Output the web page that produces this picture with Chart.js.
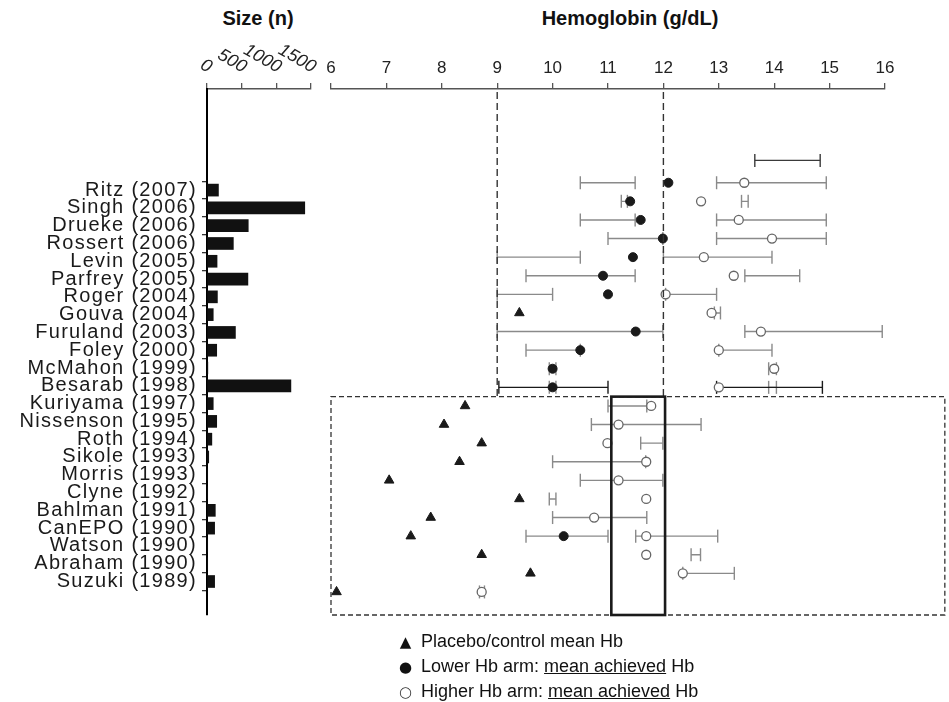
<!DOCTYPE html>
<html>
<head>
<meta charset="utf-8">
<script src="https://cdn.jsdelivr.net/npm/chart.js@4.4.1/dist/chart.umd.min.js"></script>
<style>
  body { margin: 0; background: #fff; font-family: "Liberation Sans", Arial, sans-serif; }
  #wrap { position: relative; width: 949px; height: 702px; overflow: hidden; background: #fff; }
  #sizeBox { position: absolute; left: 0; top: 0; width: 320px; height: 702px; }
  #hbBox { position: absolute; left: 300px; top: 0; width: 649px; height: 702px; }
  .title { position: absolute; top: 7px; font-weight: bold; font-size: 20px; color: #111; transform: translateX(-50%); white-space: nowrap; }
  .leg { position: absolute; left: 390px; font-size: 18px; line-height: 20px; color: #111; white-space: nowrap; }
  .leg .sym { display: inline-block; width: 31px; font-family: "DejaVu Sans", sans-serif; text-align: center; }
</style>
</head>
<body>
<div id="wrap">
  <div class="title" style="left:258px">Size (n)</div>
  <div class="title" style="left:630px">Hemoglobin (g/dL)</div>
  <div id="sizeBox"><canvas id="sizeChart"></canvas></div>
  <div id="hbBox"><canvas id="hbChart"></canvas></div>
  <div class="leg" style="top:631px"><span class="sym" style="font-size:15px">▲</span>Placebo/control mean Hb</div>
  <div class="leg" style="top:656px"><span class="sym" style="font-size:15px">●</span>Lower Hb arm: <u>mean achieved</u> Hb</div>
  <div class="leg" style="top:681px"><span class="sym" style="font-size:15px;color:#333">○</span>Higher Hb arm: <u>mean achieved</u> Hb</div>
</div>
<script>
// --- data ---
const studies = ['Ritz (2007)', 'Singh (2006)', 'Drueke (2006)', 'Rossert (2006)', 'Levin (2005)',
  'Parfrey (2005)', 'Roger (2004)', 'Gouva (2004)', 'Furuland (2003)', 'Foley (2000)', 'McMahon (1999)',
  'Besarab (1998)', 'Kuriyama (1997)', 'Nissenson (1995)', 'Roth (1994)', 'Sikole (1993)', 'Morris (1993)',
  'Clyne (1992)', 'Bahlman (1991)', 'CanEPO (1990)', 'Watson (1990)', 'Abraham (1990)', 'Suzuki (1989)'];

const sizeN = [165, 1410, 595, 380, 145, 590, 150, 90, 410, 140, 12, 1210,
  90, 140, 70, 25, 10, 10, 120, 110, 10, 10, 110];
const sizeTicks = [0, 500, 1000, 1500];

const placeboHb = [null, null, null, null, null, null, null, 9.4, null, null, null, null,
  8.42, 8.04, 8.72, 8.32, 7.05, 9.4, 7.8, 7.44, 8.72, 9.6, 6.1];
const lowerHb = [12.09, 11.4, 11.59, 11.99, 11.45, 10.91, 11.0, null, 11.5, 10.5, 10.0, 10.0,
  null, null, null, null, null, null, null, 10.2, null, null, null];
const higherHb = [13.46, 12.68, 13.36, 13.96, 12.73, 13.27, 12.04, 12.87, 13.76, 13.0, 14.0, 13.0,
  11.78, 11.19, 10.99, 11.69, 11.19, 11.69, 10.75, 11.69, 11.69, 12.35, 8.72];

// target ranges of the lower arm
const lowTargetLo = [10.5, 11.24, 10.5, 11.0, 9.0, 9.52, 9.0, null, 9.0, 9.52, 9.94, 9.03,
  null, null, null, null, null, 9.94, null, 9.52, null, null, 8.68];
const lowTargetHi = [11.49, 11.35, 11.49, 11.99, 10.5, 11.49, 10.0, null, 11.99, 10.5, 10.06, 11.0,
  null, null, null, null, null, 10.06, null, 11.0, null, null, 8.77];
// target ranges of the higher arm
const highTargetLo = [12.96, 13.41, 12.96, 12.96, 12.0, 13.47, 12.04, 12.92, 13.47, 13.0, 13.9, 12.96,
  11.0, 10.7, 11.59, 10.0, 10.5, null, 10.0, 11.5, 12.5, 12.35, null];
const highTargetHi = [14.94, 13.53, 14.94, 14.94, 13.96, 14.46, 12.96, 13.03, 15.95, 13.96, 14.04, 14.87,
  11.7, 12.68, 11.99, 11.68, 11.99, null, 11.7, 12.98, 12.67, 13.28, null];
// extra short bars (row position, low, high)
const extraRow = [-1.2, 11, 11];
const extraLo = [13.65, 9.94, 13.9];
const extraHi = [14.83, 10.06, 14.04];
const darkRows = [11];

const hbMin = 6, hbMax = 16;
const refLines = [9, 12];
const boxLo = 11.06, boxHi = 12.03;
const zoneTopRow = 11.5, zoneRight = 17.08;
const rowMin = -5.04, rowMax = 23.24;

const FONT = '"Liberation Sans", Arial, sans-serif';

// --- size chart ---
const sizeLabels = {
  id: 'sizeLabels',
  beforeDraw(chart) { chart.ctx.letterSpacing = '1.3px'; },
  afterDraw(chart) {
    const ctx = chart.ctx;
    ctx.letterSpacing = '0px';
    const xs = chart.scales.x;
    ctx.save();
    ctx.font = 'italic 18px ' + FONT;
    ctx.fillStyle = '#222';
    ctx.textAlign = 'right';
    ctx.textBaseline = 'alphabetic';
    sizeTicks.forEach(v => {
      ctx.save();
      ctx.translate(xs.getPixelForValue(v) + 1, xs.bottom - 16);
      ctx.rotate(0.52);
      ctx.fillText(String(v), 0, 0);
      ctx.restore();
    });
    ctx.restore();
  }
};

new Chart(document.getElementById('sizeChart'), {
  type: 'bar',
  data: {
    datasets: [{
      data: sizeN.map((v, i) => ({ x: v, y: i })),
      backgroundColor: '#111',
      barThickness: 12
    }]
  },
  options: {
    indexAxis: 'y',
    responsive: true,
    maintainAspectRatio: false,
    animation: false,
    layout: { padding: { left: 0, right: 9, top: 0, bottom: 87 } },
    plugins: { legend: { display: false }, tooltip: { enabled: false } },
    scales: {
      x: {
        type: 'linear', position: 'top', min: 0, max: 1500,
        afterBuildTicks: s => { s.ticks = sizeTicks.map(v => ({ value: v })); },
        afterFit: s => { s.height = 89; },
        ticks: { display: false },
        grid: { drawOnChartArea: false, drawTicks: true, tickLength: 6, color: '#555', lineWidth: 1.3 },
        border: { color: '#555', width: 1.5 }
      },
      y: {
        type: 'linear', reverse: true, min: rowMin, max: rowMax,
        afterBuildTicks: s => { s.ticks = studies.map((_, i) => ({ value: i })); },
        afterFit: s => { s.width = 207; },
        ticks: {
          autoSkip: false, padding: 5, color: '#1a1a1a',
          font: { family: FONT, size: 20 },
          callback: v => studies[v]
        },
        grid: { drawOnChartArea: false, drawTicks: true, tickLength: 5, color: '#333', lineWidth: 1.3 },
        border: { color: '#000', width: 2 }
      }
    }
  },
  plugins: [sizeLabels]
});

// --- hemoglobin chart ---
function points(vals) {
  const out = [];
  vals.forEach((v, i) => { if (v != null) out.push({ x: v, y: i }); });
  return out;
}
function rangePoints(rows, lo, hi, keep) {
  const out = [];
  rows.forEach((r, i) => {
    if (lo[i] == null || !keep(r)) return;
    out.push({ x: lo[i], y: r }, { x: hi[i], y: r }, { x: null, y: null });
  });
  return out;
}
const rowIdx = studies.map((_, i) => i);
const isDark = r => darkRows.includes(r);
const isLight = r => !darkRows.includes(r);
const greyBars = [].concat(
  rangePoints(rowIdx, lowTargetLo, lowTargetHi, isLight),
  rangePoints(rowIdx, highTargetLo, highTargetHi, isLight),
  rangePoints(extraRow.slice(1), extraLo.slice(1), extraHi.slice(1), r => true)
);
const darkBars = [].concat(
  rangePoints(rowIdx, lowTargetLo, lowTargetHi, isDark),
  rangePoints(rowIdx, highTargetLo, highTargetHi, isDark)
);
const topBar = rangePoints(extraRow.slice(0, 1), extraLo, extraHi, r => true);

function barSet(data, color, order) {
  return {
    data, showLine: true, spanGaps: false, order, clip: false,
    borderColor: color, borderWidth: 1.4,
    pointStyle: 'line', rotation: 90, pointRadius: 6.5, pointHoverRadius: 6.5,
    pointBorderColor: color, pointBackgroundColor: color, pointBorderWidth: 1.4
  };
}

const annotations = {
  id: 'annotations',
  afterDatasetsDraw(chart) {
    const { ctx, chartArea } = chart;
    const xs = chart.scales.x, ys = chart.scales.y;
    const yTop = ys.getPixelForValue(zoneTopRow);
    const yBot = ys.getPixelForValue(rowMax);
    ctx.save();
    ctx.strokeStyle = '#333';
    ctx.lineWidth = 1.4;
    ctx.setLineDash([7, 4]);
    refLines.forEach(v => {
      const x = xs.getPixelForValue(v);
      ctx.beginPath();
      ctx.moveTo(x, chartArea.top + 3);
      ctx.lineTo(x, yTop);
      ctx.stroke();
    });
    ctx.setLineDash([5, 3]);
    ctx.lineWidth = 1.3;
    const xl = xs.getPixelForValue(hbMin), xr = xs.getPixelForValue(zoneRight);
    ctx.strokeRect(xl, yTop, xr - xl, yBot - yTop);
    ctx.setLineDash([]);
    ctx.lineWidth = 2.6;
    ctx.strokeStyle = '#1a1a1a';
    const bl = xs.getPixelForValue(boxLo), br = xs.getPixelForValue(boxHi);
    ctx.strokeRect(bl, yTop, br - bl, yBot - yTop);
    ctx.restore();
  }
};

new Chart(document.getElementById('hbChart'), {
  type: 'scatter',
  data: {
    datasets: [
      { data: points(placeboHb), pointStyle: 'triangle', pointRadius: 5.5, pointHoverRadius: 5.5,
        backgroundColor: '#1a1a1a', borderColor: '#1a1a1a', borderWidth: 1, order: 0, clip: false },
      { data: points(lowerHb), pointStyle: 'circle', pointRadius: 4.5, pointHoverRadius: 4.5,
        backgroundColor: '#1a1a1a', borderColor: '#1a1a1a', borderWidth: 1, order: 0, clip: false },
      { data: points(higherHb), pointStyle: 'circle', pointRadius: 4.5, pointHoverRadius: 4.5,
        backgroundColor: '#fff', borderColor: '#666', borderWidth: 1.3, order: 1, clip: false },
      barSet(greyBars, '#8a8a8a', 5),
      barSet(darkBars, '#1a1a1a', 4),
      barSet(topBar, '#3a3a3a', 4)
    ]
  },
  options: {
    responsive: true,
    maintainAspectRatio: false,
    animation: false,
    layout: { padding: { left: 31, right: 64, top: 0, bottom: 87 } },
    plugins: { legend: { display: false }, tooltip: { enabled: false } },
    scales: {
      x: {
        type: 'linear', position: 'top', min: hbMin, max: hbMax,
        afterFit: s => { s.height = 89; },
        ticks: { stepSize: 1, padding: 4, color: '#222', font: { family: FONT, size: 17 } },
        grid: { drawOnChartArea: false, drawTicks: true, tickLength: 6, color: '#555', lineWidth: 1.3 },
        border: { color: '#555', width: 1.5 }
      },
      y: { type: 'linear', reverse: true, min: rowMin, max: rowMax, display: false }
    }
  },
  plugins: [annotations]
});
</script>
</body>
</html>
